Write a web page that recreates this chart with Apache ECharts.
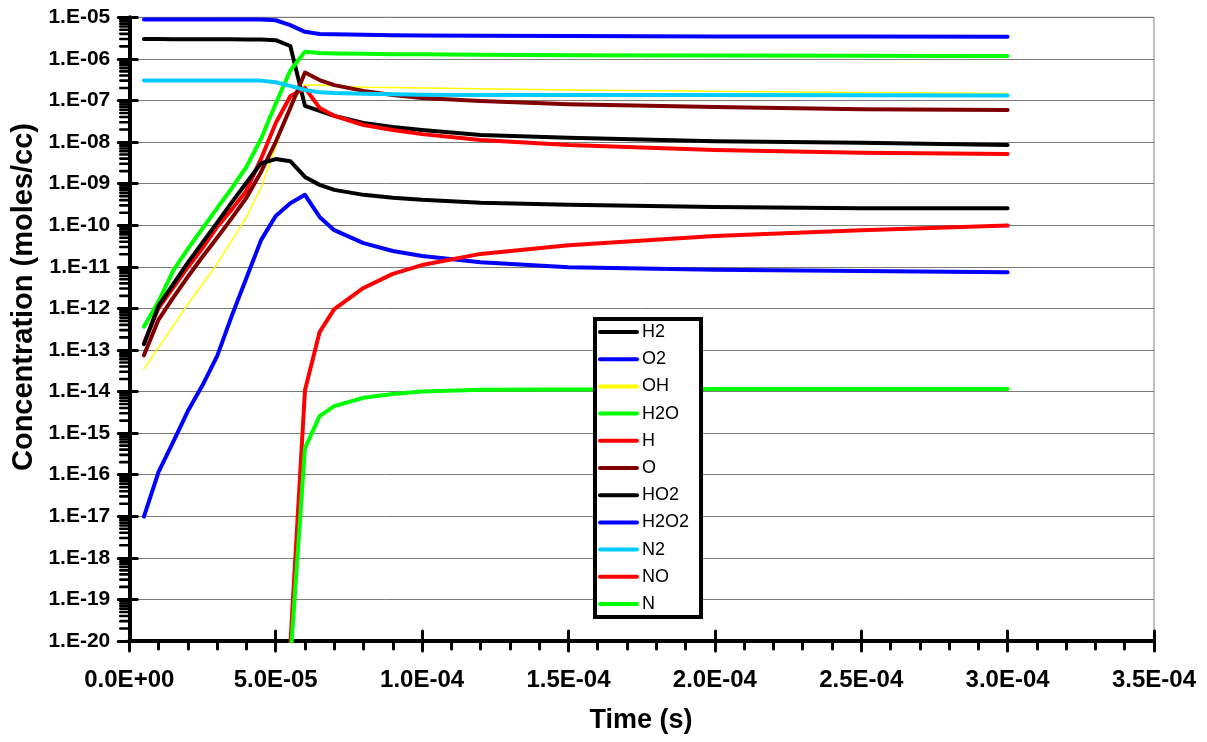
<!DOCTYPE html>
<html>
<head>
<meta charset="utf-8">
<script src="https://cdn.jsdelivr.net/npm/echarts@6/dist/echarts.min.js"></script>
<style>
  html, body { margin: 0; padding: 0; background: #fff; }
  #chart { width: 1207px; height: 742px; }
</style>
</head>
<body>
<div id="chart"></div>
<script>
// Species concentrations (moles/cc) versus time (s) for H2/O2 combustion with N2
const timeS = [5e-6, 1e-5, 1.5e-5, 2e-5, 2.5e-5, 3e-5, 3.5e-5, 4e-5, 4.5e-5, 5e-5, 5.5e-5,
               6e-5, 6.5e-5, 7e-5, 8e-5, 9e-5, 1e-4, 1.2e-4, 1.5e-4, 2e-4, 2.5e-4, 3e-4];

const H2   = [3.0e-6, 3.0e-6, 2.98e-6, 2.97e-6, 2.96e-6, 2.95e-6, 2.95e-6, 2.94e-6, 2.92e-6, 2.82e-6, 2.04e-6,
              7.41e-8, 5.62e-8, 4.27e-8, 2.88e-8, 2.29e-8, 1.95e-8, 1.48e-8, 1.26e-8, 1.05e-8, 9.55e-9, 8.51e-9];
const O2   = [8.91e-6, 8.91e-6, 8.91e-6, 8.91e-6, 8.91e-6, 8.9e-6, 8.9e-6, 8.88e-6, 8.85e-6, 8.5e-6, 6.46e-6,
              4.47e-6, 3.98e-6, 3.89e-6, 3.80e-6, 3.72e-6, 3.63e-6, 3.59e-6, 3.55e-6, 3.47e-6, 3.43e-6, 3.39e-6];
const OH   = [3.47e-14, 1.15e-13, 3.80e-13, 1.26e-12, 3.80e-12, 1.17e-11, 4.27e-11, 1.55e-10, 7.94e-10, 7.59e-9, 7.76e-8,
              2.34e-7, 2.34e-7, 2.24e-7, 2.09e-7, 2.04e-7, 2.00e-7, 1.91e-7, 1.78e-7, 1.66e-7, 1.55e-7, 1.48e-7];
const H2O  = [3.63e-13, 1.48e-12, 8.13e-12, 2.69e-11, 8.32e-11, 2.57e-10, 7.76e-10, 2.51e-9, 1.20e-8, 8.32e-8, 5.25e-7,
              1.48e-6, 1.38e-6, 1.35e-6, 1.32e-6, 1.30e-6, 1.29e-6, 1.26e-6, 1.23e-6, 1.20e-6, 1.19e-6, 1.17e-6];
const H    = [1.45e-13, 1.02e-12, 3.16e-12, 9.77e-12, 2.82e-11, 9.12e-11, 2.40e-10, 6.76e-10, 3.98e-9, 2.82e-8, 1.26e-7,
              2.00e-7, 6.61e-8, 4.27e-8, 2.57e-8, 1.95e-8, 1.55e-8, 1.12e-8, 8.51e-9, 6.46e-9, 5.50e-9, 5.13e-9];
const O    = [7.41e-14, 5.37e-13, 1.82e-12, 5.75e-12, 1.74e-11, 5.01e-11, 1.48e-10, 4.57e-10, 1.91e-9, 1.00e-8, 6.61e-8,
              4.68e-7, 3.09e-7, 2.34e-7, 1.70e-7, 1.35e-7, 1.15e-7, 9.77e-8, 8.13e-8, 6.92e-8, 6.17e-8, 5.89e-8];
const HO2  = [1.38e-13, 1.17e-12, 3.80e-12, 1.26e-11, 3.80e-11, 1.15e-10, 3.55e-10, 1.05e-9, 3.09e-9, 3.89e-9, 3.47e-9,
              1.45e-9, 9.33e-10, 7.08e-10, 5.37e-10, 4.57e-10, 4.07e-10, 3.47e-10, 3.09e-10, 2.75e-10, 2.57e-10, 2.57e-10];
const H2O2 = [9.77e-18, 1.17e-16, 6.17e-16, 3.39e-15, 1.41e-14, 7.08e-14, 6.61e-13, 5.37e-12, 4.37e-11, 1.66e-10, 3.39e-10,
              5.37e-10, 1.58e-10, 7.59e-11, 3.72e-11, 2.40e-11, 1.82e-11, 1.29e-11, 9.77e-12, 8.51e-12, 7.94e-12, 7.41e-12];
const N2   = [3.02e-7, 3.02e-7, 3.02e-7, 3.02e-7, 3.02e-7, 3.02e-7, 3.02e-7, 3.02e-7, 3.0e-7, 2.75e-7, 2.24e-7,
              1.78e-7, 1.58e-7, 1.51e-7, 1.45e-7, 1.41e-7, 1.38e-7, 1.35e-7, 1.35e-7, 1.35e-7, 1.34e-7, 1.32e-7];
const NO   = [null, null, null, null, null, null, null, null, null, null, 7.9e-21,
              1.07e-14, 2.69e-13, 9.55e-13, 3.09e-12, 6.76e-12, 1.10e-11, 2.04e-11, 3.31e-11, 5.50e-11, 7.59e-11, 9.77e-11];
const N    = [null, null, null, null, null, null, null, null, null, null, 3.3e-21,
              4.37e-16, 2.57e-15, 4.47e-15, 7.08e-15, 8.71e-15, 1.00e-14, 1.10e-14, 1.12e-14, 1.15e-14, 1.15e-14, 1.15e-14];

const speciesNames = ['H2', 'O2', 'OH', 'H2O', 'H', 'O', 'HO2', 'H2O2', 'N2', 'NO', 'N'];

const xTickLabels = ['0.0E+00', '5.0E-05', '1.0E-04', '1.5E-04', '2.0E-04', '2.5E-04', '3.0E-04', '3.5E-04'];
const yTickLabels = ['1.E-05', '1.E-06', '1.E-07', '1.E-08', '1.E-09', '1.E-10', '1.E-11', '1.E-12',
                     '1.E-13', '1.E-14', '1.E-15', '1.E-16', '1.E-17', '1.E-18', '1.E-19', '1.E-20'];

// log-axis minor tick positions: mantissas 2..9 within each decade
const minorMantissas = [2, 3, 4, 5, 6, 7, 8, 9];
const minorDecades = [-20, -19, -18, -17, -16, -15, -14, -13, -12, -11, -10, -9, -8, -7, -6];

const FONT = '"Liberation Sans", Arial, Helvetica, sans-serif';

const styles = {
  H2:   { color: '#000000', width: 4 },
  O2:   { color: '#0000FF', width: 4 },
  OH:   { color: '#FFFF00', width: 1.5 },
  H2O:  { color: '#00FF00', width: 4 },
  H:    { color: '#FF0000', width: 4 },
  O:    { color: '#800000', width: 4 },
  HO2:  { color: '#000000', width: 4 },
  H2O2: { color: '#0000FF', width: 4 },
  N2:   { color: '#00CCFF', width: 4 },
  NO:   { color: '#FF0000', width: 4 },
  N:    { color: '#00FF00', width: 4 }
};
const valuesByName = { H2, O2, OH, H2O, H, O, HO2, H2O2, N2, NO, N };

function pairs(vals) {
  const out = [];
  timeS.forEach((t, i) => { if (vals[i] != null) out.push([t, vals[i]]); });
  return out;
}

const lineSeries = speciesNames.map(name => ({
  name: name,
  type: 'line',
  data: pairs(valuesByName[name]),
  symbol: 'none',
  showSymbol: false,
  clip: true,
  color: styles[name].color,
  lineStyle: { color: styles[name].color, width: styles[name].width, join: 'round', cap: 'round' },
  emphasis: { disabled: true }
}));

const minorTickData = [];
minorDecades.forEach(d => minorMantissas.forEach(m => minorTickData.push([0, m * Math.pow(10, d)])));

const minorTickSeries = {
  type: 'custom',
  name: 'yMinor',
  silent: true,
  clip: false,
  z: 5,
  data: minorTickData,
  encode: { x: 0, y: 1 },
  renderItem: function (params, api) {
    const p = api.coord([api.value(0), api.value(1)]);
    return {
      type: 'line',
      shape: { x1: p[0] - 9, y1: p[1], x2: p[0], y2: p[1] },
      style: { stroke: '#000', lineWidth: 2.6, lineCap: 'round' }
    };
  }
};

const tickStyle = { color: '#000', width: 3, cap: 'round' };

const chart = echarts.init(document.getElementById('chart'), null, { renderer: 'canvas' });
chart.setOption({
  animation: false,
  backgroundColor: '#fff',
  grid: { left: 129.3, right: 53, top: 17.3, bottom: 101, show: true, borderColor: '#808080', borderWidth: 1, backgroundColor: 'transparent' },
  xAxis: [{
    type: 'value', min: 0, max: 3.5e-4, interval: 5e-5, position: 'bottom',
    axisLine: { show: true, onZero: false, lineStyle: { color: '#000', width: 4 } },
    axisTick: { show: true, length: 10, lineStyle: tickStyle },
    minorTick: { show: true, splitNumber: 5, length: 8, lineStyle: tickStyle },
    splitLine: { show: false },
    minorSplitLine: { show: false },
    axisLabel: {
      margin: 27, fontSize: 24, fontWeight: 'bold', color: '#000', fontFamily: FONT,
      formatter: v => xTickLabels[Math.round(v / 5e-5)]
    }
  }, {
    type: 'value', min: 0, max: 3.5e-4, interval: 5e-5, position: 'bottom',
    axisLine: { show: false, onZero: false },
    axisTick: { show: true, inside: true, length: 10, lineStyle: tickStyle },
    axisLabel: { show: false },
    splitLine: { show: false }
  }],
  yAxis: [{
    type: 'log', logBase: 10, min: 1e-20, max: 1e-5, interval: 1, position: 'left',
    axisLine: { show: true, onZero: false, lineStyle: { color: '#000', width: 4 } },
    axisTick: { show: true, length: 11, lineStyle: tickStyle },
    splitLine: { show: true, lineStyle: { color: '#7a7a7a', width: 1 } },
    axisLabel: {
      margin: 19, fontSize: 21, fontWeight: 'bold', color: '#000', fontFamily: FONT,
      formatter: v => yTickLabels[-Math.round(Math.log10(v)) - 5]
    }
  }, {
    type: 'log', logBase: 10, min: 1e-20, max: 1e-5, interval: 1, position: 'left',
    axisLine: { show: false, onZero: false },
    axisTick: { show: true, inside: true, length: 8, lineStyle: tickStyle },
    axisLabel: { show: false },
    splitLine: { show: false }
  }],
  legend: {
    data: speciesNames,
    orient: 'vertical',
    left: 595,
    top: 319,
    padding: [3, 12, 3, 3],
    itemWidth: 37,
    itemHeight: 14,
    itemGap: 7.2,
    backgroundColor: '#fff',
    borderColor: '#000',
    borderWidth: 4,
    selectedMode: false,
    itemStyle: { opacity: 0 },
    lineStyle: { width: 4, cap: 'round' },
    textStyle: { fontSize: 18, lineHeight: 20, color: '#000', fontFamily: FONT }
  },
  graphic: [{
    type: 'text',
    x: 24, y: 297,
    rotation: Math.PI / 2,
    style: {
      text: 'Concentration (moles/cc)',
      font: 'bold 29px ' + FONT,
      fill: '#000',
      textAlign: 'center',
      textVerticalAlign: 'middle'
    }
  }, {
    type: 'text',
    x: 641, y: 721,
    style: {
      text: 'Time (s)',
      font: 'bold 27px ' + FONT,
      fill: '#000',
      textAlign: 'center',
      textVerticalAlign: 'middle'
    }
  }],
  series: lineSeries.concat([minorTickSeries])
});
</script>
</body>
</html>
